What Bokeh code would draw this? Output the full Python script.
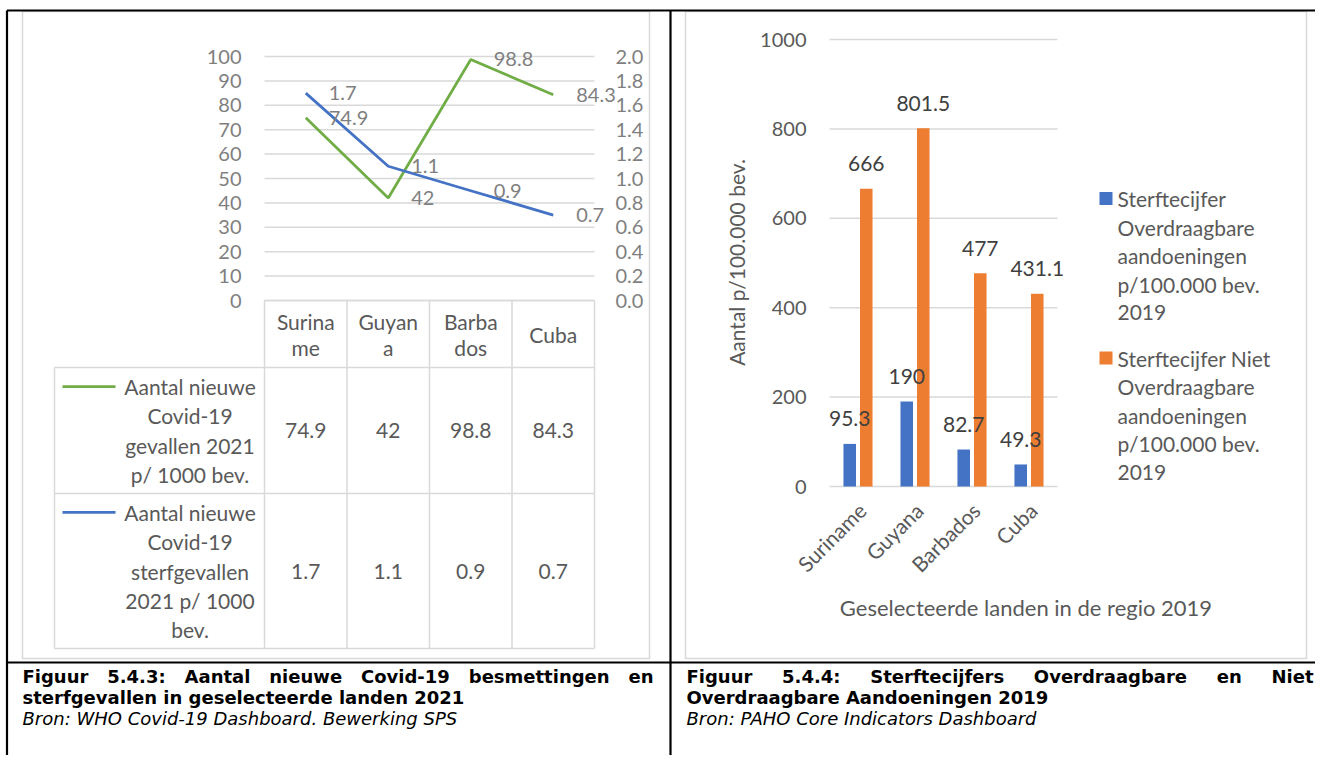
import math
from bokeh.plotting import figure
from bokeh.models import Range1d, ColumnDataSource
from bokeh.core.properties import value
from bokeh.transform import dodge
from bokeh.embed import file_html
from bokeh.resources import INLINE

# ---------------- data ----------------
countries = ["Suriname", "Guyana", "Barbados", "Cuba"]
header_lines = [["Surina", "me"], ["Guyan", "a"], ["Barba", "dos"], ["Cuba"]]
covid_cases = [74.9, 42, 98.8, 84.3]
covid_deaths = [1.7, 1.1, 0.9, 0.7]
cases_name = ["Aantal nieuwe", "Covid-19", "gevallen 2021", "p/ 1000 bev."]
deaths_name = ["Aantal nieuwe", "Covid-19", "sterfgevallen", "2021 p/ 1000", "bev."]
left_ticks = [0, 10, 20, 30, 40, 50, 60, 70, 80, 90, 100]
right_ticks = [0.0, 0.2, 0.4, 0.6, 0.8, 1.0, 1.2, 1.4, 1.6, 1.8, 2.0]

communicable = [95.3, 190, 82.7, 49.3]
noncommunicable = [666, 801.5, 477, 431.1]
bar_ticks = [0, 200, 400, 600, 800, 1000]
legend_comm = ["Sterftecijfer", "Overdraagbare", "aandoeningen", "p/100.000 bev.", "2019"]
legend_noncomm = ["Sterftecijfer Niet", "Overdraagbare", "aandoeningen", "p/100.000 bev.", "2019"]
y_title = "Aantal p/100.000 bev."
x_title = "Geselecteerde landen in de regio 2019"

cap_left = ["Figuur 5.4.3: Aantal nieuwe Covid-19 besmettingen en",
            "sterfgevallen in geselecteerde landen 2021",
            "Bron: WHO Covid-19 Dashboard. Bewerking SPS"]
cap_right = ["Figuur 5.4.4: Sterftecijfers Overdraagbare en Niet",
             "Overdraagbare Aandoeningen 2019",
             "Bron: PAHO Core Indicators Dashboard"]

# ---------------- layout (page pixels) ----------------
X0, Y0, W, H = 0, 0, 1315, 755
L1, R1, T1, B1 = 264, 594, 56, 300      # left plot area
L2, R2, T2, B2 = 829, 1057, 39, 486     # right plot area
FONT = value("Lato")
GRID = "#d9d9d9"
BLUE, GREEN, ORANGE = "#4472c4", "#70ad47", "#ed7d31"

def cat_range(lo, hi, n):
    k = n / (hi - lo)
    return Range1d(-0.5 + (X0 - lo) * k, -0.5 + (X0 + W - lo) * k)

def val_range(vmax, top, bottom):
    k = vmax / (bottom - top)
    return Range1d((bottom - (Y0 + H)) * k, (bottom - Y0) * k)

p = figure(width=W, height=H, x_range=Range1d(X0, X0 + W), y_range=Range1d(Y0 + H, Y0),
           output_backend="svg", toolbar_location=None, min_border=0,
           x_axis_location=None, y_axis_location=None,
           background_fill_color="white", border_fill_color="white",
           outline_line_color=None)
p.grid.visible = False
p.extra_x_ranges = {"lx": cat_range(L1, R1, 4), "bx": cat_range(L2, R2, 4)}
p.extra_y_ranges = {"ly": val_range(100, T1, B1), "ry": val_range(2.0, T1, B1),
                    "by": val_range(1000, T2, B2)}

def txt(x, y, text, size="20px", color="#595959", align="center", baseline="middle", **kw):
    return p.text(x=x, y=y, text=text, text_font=kw.pop("font", FONT), text_font_size=size,
                  text_color=color, text_align=align, text_baseline=baseline, **kw)

# ---------------- frames ----------------
p.quad(left=[22, 685], right=[649, 1306], top=[11, 11], bottom=[658, 658],
       fill_color=None, line_color=GRID, line_width=1.5)
p.segment(x0=[6.5, 6.5, 670, 6.5], x1=[1315, 6.5, 670, 1315], y0=[10, 10, 10, 662],
          y1=[10, 755, 755, 662], line_color="black", line_width=2.2)

# ---------------- left chart ----------------
n = len(countries)
idx = list(range(n))
src_l = ColumnDataSource(dict(idx=idx, cases=covid_cases, deaths=covid_deaths,
                              cases_txt=[f"{v:g}" for v in covid_cases],
                              deaths_txt=[f"{v:g}" for v in covid_deaths]))
p.segment(x0=-0.5, x1=n - 0.5, y0=left_ticks, y1=left_ticks, x_range_name="lx",
          y_range_name="ly", line_color=GRID, line_width=1.5)
txt(-0.5, left_ticks, [str(t) for t in left_ticks], color="#7f7f7f", align="right",
    x_offset=-23, x_range_name="lx", y_range_name="ly")
txt(n - 0.5, right_ticks, [f"{t:.1f}" for t in right_ticks], color="#7f7f7f", align="left",
    x_offset=21, x_range_name="lx", y_range_name="ry")
p.line("idx", "cases", source=src_l, x_range_name="lx", y_range_name="ly",
       line_color=GREEN, line_width=2.75)
p.line("idx", "deaths", source=src_l, x_range_name="lx", y_range_name="ry",
       line_color=BLUE, line_width=2.75)
txt("idx", "cases", "cases_txt", source=src_l, color="#7f7f7f", align="left", x_offset=23,
    x_range_name="lx", y_range_name="ly")
txt("idx", "deaths", "deaths_txt", source=src_l, color="#7f7f7f", align="left", x_offset=23,
    x_range_name="lx", y_range_name="ry")

# data table under the left chart
TB = [B1, 367, 493, 648]
TL, KEY0, KEY1 = 54, 62, 115
bounds = [i - 0.5 for i in range(n + 1)]
p.segment(x0=bounds, x1=bounds, y0=B1, y1=TB[3], x_range_name="lx",
          line_color=GRID, line_width=1.5)
p.segment(x0=-0.5, x1=n - 0.5, y0=B1, y1=B1, x_range_name="lx", line_color=GRID, line_width=1.5)
p.segment(x0=[TL, TL, TL, TL], x1=[R1, R1, R1, TL], y0=[TB[1], TB[2], TB[3], TB[1]],
          y1=[TB[1], TB[2], TB[3], TB[3]], line_color=GRID, line_width=1.5)
hx, hy, ht = [], [], []
for i, lines in enumerate(header_lines):
    c = (TB[0] + TB[1]) / 2
    for j, s in enumerate(lines):
        hx.append(i)
        hy.append(c + (j - (len(lines) - 1) / 2) * 26)
        ht.append(s)
txt(hx, hy, ht, size="21px", x_range_name="lx")
for r, (vals, names, col) in enumerate([(covid_cases, cases_name, GREEN),
                                         (covid_deaths, deaths_name, BLUE)]):
    c = (TB[r + 1] + TB[r + 2]) / 2
    txt(idx, [c] * n, [f"{v:g}" for v in vals], size="21px", x_range_name="lx")
    ys = [c + (j - (len(names) - 1) / 2) * 29.3 for j in range(len(names))]
    txt([(KEY1 + L1) / 2] * len(names), ys, names, size="21px")
    p.segment(x0=KEY0, x1=KEY1, y0=ys[0], y1=ys[0], line_color=col, line_width=2.75)

# ---------------- right chart ----------------
src_b = ColumnDataSource(dict(idx=idx, comm=communicable, noncomm=noncommunicable,
                              comm_txt=[f"{v:g}" for v in communicable],
                              noncomm_txt=[f"{v:g}" for v in noncommunicable]))
p.segment(x0=-0.5, x1=n - 0.5, y0=bar_ticks, y1=bar_ticks, x_range_name="bx",
          y_range_name="by", line_color=GRID, line_width=1.5)
txt(-0.5, bar_ticks, [str(t) for t in bar_ticks], align="right", x_offset=-23,
    x_range_name="bx", y_range_name="by")
off, bw = 0.145, 0.22
p.vbar(x=dodge("idx", -off), top="comm", bottom=0, width=bw, source=src_b,
       x_range_name="bx", y_range_name="by", fill_color=BLUE, line_color=None)
p.vbar(x=dodge("idx", off), top="noncomm", bottom=0, width=bw, source=src_b,
       x_range_name="bx", y_range_name="by", fill_color=ORANGE, line_color=None)
txt(dodge("idx", -off), "comm", "comm_txt", source=src_b, size="21px", color="#404040",
    y_offset=-25, x_range_name="bx", y_range_name="by")
txt(dodge("idx", off), "noncomm", "noncomm_txt", source=src_b, size="21px", color="#404040",
    y_offset=-25, x_range_name="bx", y_range_name="by")
txt(idx, [0] * n, countries, size="21px", align="right", angle=math.pi / 4,
    x_offset=4, y_offset=20, x_range_name="bx", y_range_name="by")
txt([736], [262], [y_title], size="21px", angle=math.pi / 2)
txt([1025.5], [606.5], [x_title], size="22px")

# legend
p.scatter(x=[1105.5, 1105.5], y=[198, 357.5], marker="square", size=13,
          fill_color=[BLUE, ORANGE], line_color=None)
LEG_DY = 28.6
txt([1117] * 5, [198 + j * LEG_DY for j in range(5)], legend_comm, size="21px", align="left")
txt([1117] * 5, [357.5 + j * LEG_DY for j in range(5)], legend_noncomm, size="21px", align="left")

# ---------------- captions ----------------
DJB = {" ": .348, ".": .380, ":": .400, "-": .415, "a": .675, "b": .716, "c": .593, "d": .716,
       "e": .678, "f": .435, "g": .716, "h": .712, "i": .343, "j": .343, "k": .665, "l": .343,
       "m": 1.042, "n": .712, "o": .687, "p": .716, "r": .493, "s": .595, "t": .478, "u": .712,
       "v": .652, "w": .924, "y": .652, "A": .774, "C": .734, "F": .683, "N": .837, "O": .850,
       "S": .720}
CAP = value("DejaVu Sans")
CSIZE = 18

def width(s):
    return sum(DJB.get(ch, .696) for ch in s) * CSIZE

def justified(line, x_left, x_right, y):
    words = line.split(" ")
    gap = (x_right - x_left - sum(width(w) for w in words)) / (len(words) - 1)
    xs, x = [], x_left
    for w in words:
        xs.append(x)
        x += width(w) + gap
    txt(xs, [y] * len(words), words, size=f"{CSIZE}px", color="black", align="left",
        font=CAP, text_font_style="bold")

for cap, xl, xr in [(cap_left, 22, 653), (cap_right, 686, 1313)]:
    justified(cap[0], xl, xr, 676)
    txt([xl], [697], [cap[1]], size=f"{CSIZE}px", color="black", align="left",
        font=CAP, text_font_style="bold")
    txt([xl], [718], [cap[2]], size="18px", color="black", align="left",
        font=CAP, text_font_style="italic")

open("out.html", "w").write(file_html(p, INLINE))
